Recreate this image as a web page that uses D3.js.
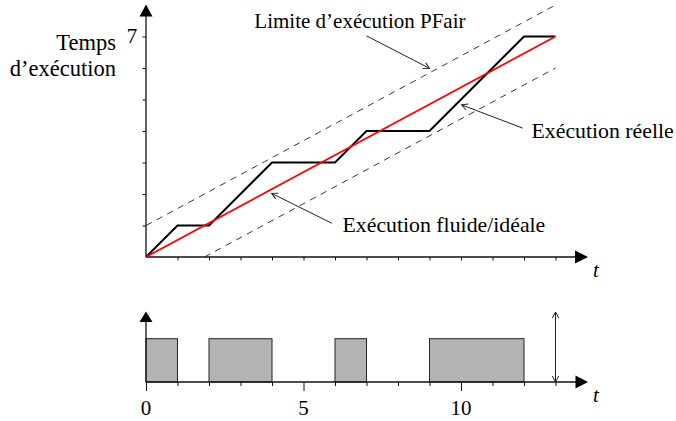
<!DOCTYPE html>
<html><head><meta charset="utf-8">
<script src="https://cdn.jsdelivr.net/npm/d3@7"></script>
<style>html,body{margin:0;padding:0;background:#fff;}svg{display:block;}</style>
</head><body>
<svg id="c" width="676" height="421"></svg>
<script>
// ---- data ----
const execTimes  = [0, 1, 2, 4, 6, 7, 9, 12, 13];   // exécution réelle
const execValues = [0, 1, 1, 3, 3, 4, 4, 7, 7];
const fluidTimes  = [0, 13];                        // exécution fluide/idéale
const fluidValues = [0, 7];
const upperTimes  = [0, 13];                        // limite PFair haute
const upperValues = [1, 8];
const lowerTimes  = [1.857, 13];                    // limite PFair basse
const lowerValues = [0, 6];
const busyStart = [0, 2, 6, 9];                     // ordonnancement
const busyEnd   = [1, 4, 7, 12];
const timeTicks = [0,1,2,3,4,5,6,7,8,9,10,11,12,13];
const timeLabels = [0, 5, 10];
const valueTicks = [1,2,3,4,5,6,7];
const valueLabels = [7];
const yTitle = ["Temps", "d\u2019exécution"];
const notes = [
  {text: "Limite d\u2019exécution PFair", size: 21,   tx: 3.44, ty: 7.27, x0: 7.0, y0: 7.02, x1: 9.0, y1: 5.99},
  {text: "Exécution réelle",            size: 21.8, tx: 12.24, ty: 3.77, x0: 11.96, y0: 4.09, x1: 10.02, y1: 4.83},
  {text: "Exécution fluide/idéale",     size: 21.8, tx: 6.24, ty: 0.80, x0: 5.9, y0: 1.07, x1: 3.99, y1: 2.02}
];

// ---- layout ----
const svg = d3.select("#c");
const FONT = "'Liberation Serif','Times New Roman',serif";
const x = d3.scaleLinear().domain([0, 13]).range([146, 555.5]);
const y = d3.scaleLinear().domain([0, 7]).range([257, 36.5]);
const yB = d3.scaleLinear().domain([0, 1]).range([382, 338.7]);
const axisCol = "#111";

const defs = svg.append("defs");
defs.append("marker").attr("id","open").attr("viewBox","-8 -5 10 10")
  .attr("refX",0).attr("refY",0).attr("markerWidth",10).attr("markerHeight",10)
  .attr("markerUnits","userSpaceOnUse").attr("orient","auto-start-reverse")
  .append("path").attr("d","M-6,-3.2 L0,0 L-6,3.2").attr("fill","none")
  .attr("stroke","#222").attr("stroke-width",1);

function arrowHeadUp(cx, tipY, baseY, hw){
  svg.append("path").attr("d",`M${cx},${tipY} L${cx-hw},${baseY} L${cx+hw},${baseY} Z`).attr("fill","#000");
}
function arrowHeadRight(tipX, baseX, cy, hh){
  svg.append("path").attr("d",`M${tipX},${cy} L${baseX},${cy-hh} L${baseX},${cy+hh} Z`).attr("fill","#000");
}

// ---- top chart ----
const gTop = svg.append("g");
gTop.append("g").attr("transform",`translate(0,${y(0)})`)
  .call(d3.axisBottom(x).tickValues(timeTicks.slice(1)).tickSize(3.5).tickSizeOuter(0).tickFormat(""))
  .call(g=>{g.select(".domain").remove(); g.selectAll("line").attr("stroke",axisCol).attr("stroke-width",1);});
gTop.append("g").attr("transform",`translate(${x(0)},0)`)
  .call(d3.axisLeft(y).tickValues(valueTicks).tickSize(3.5).tickSizeOuter(0).tickFormat(""))
  .call(g=>{g.select(".domain").remove(); g.selectAll("line").attr("stroke",axisCol).attr("stroke-width",1);});
gTop.append("line").attr("x1",x(0)).attr("x2",577).attr("y1",y(0)).attr("y2",y(0)).attr("stroke",axisCol).attr("stroke-width",1.3);
gTop.append("line").attr("x1",x(0)).attr("x2",x(0)).attr("y1",y(0)).attr("y2",14).attr("stroke",axisCol).attr("stroke-width",1.3);
arrowHeadUp(x(0), 4.5, 16.5, 6.5);
arrowHeadRight(588, 575, y(0), 6.5);
valueLabels.forEach(v=>{
  gTop.append("text").attr("x",132).attr("y",y(v)+6.5).attr("text-anchor","middle")
    .attr("font-family",FONT).attr("font-size",21).text(v);
});
yTitle.forEach((s,i)=>{
  gTop.append("text").attr("x",116).attr("y",50+i*26).attr("text-anchor","end")
    .attr("font-family",FONT).attr("font-size",22.5).text(s);
});
gTop.append("text").attr("x",593).attr("y",277).attr("font-family",FONT)
  .attr("font-style","italic").attr("font-size",21).text("t");

const line = d3.line().x(d=>x(d[0])).y(d=>y(d[1]));
const dashed = [[upperTimes, upperValues],[lowerTimes, lowerValues]];
dashed.forEach(([ts, vs])=>{
  gTop.append("path").attr("d", line(d3.zip(ts, vs))).attr("fill","none")
    .attr("stroke","#222").attr("stroke-width",0.9).attr("stroke-dasharray","6.5,5.5");
});
gTop.append("path").attr("d", line(d3.zip(execTimes, execValues))).attr("fill","none")
  .attr("stroke","#000").attr("stroke-width",2).attr("stroke-linejoin","miter");
gTop.append("path").attr("d", line(d3.zip(fluidTimes, fluidValues))).attr("fill","none")
  .attr("stroke","#f00").attr("stroke-width",1.8);

notes.forEach(n=>{
  gTop.append("line").attr("x1",x(n.x0)).attr("y1",y(n.y0)).attr("x2",x(n.x1)).attr("y2",y(n.y1))
    .attr("stroke","#222").attr("stroke-width",1).attr("marker-end","url(#open)");
  gTop.append("text").attr("x",x(n.tx)).attr("y",y(n.ty)).attr("font-family",FONT)
    .attr("font-size",n.size).text(n.text);
});

// ---- bottom chart ----
const gBot = svg.append("g");
gBot.selectAll("rect.busy").data(d3.zip(busyStart, busyEnd)).join("rect").attr("class","busy")
  .attr("x",d=>x(d[0])).attr("width",d=>x(d[1])-x(d[0]))
  .attr("y",yB(1)).attr("height",yB(0)-yB(1))
  .attr("fill","#b3b3b3").attr("stroke","#222").attr("stroke-width",1);
gBot.append("g").attr("transform",`translate(0,${yB(0)})`)
  .call(d3.axisBottom(x).tickValues(timeTicks).tickSize(4).tickSizeOuter(0).tickFormat(""))
  .call(g=>{g.select(".domain").remove(); g.selectAll("line").attr("stroke",axisCol).attr("stroke-width",1)
     .attr("y2",d=>timeLabels.includes(d)?9:4);});
gBot.append("line").attr("x1",x(0)).attr("x2",577).attr("y1",yB(0)).attr("y2",yB(0)).attr("stroke",axisCol).attr("stroke-width",1.3);
gBot.append("line").attr("x1",x(0)).attr("x2",x(0)).attr("y1",yB(0)).attr("y2",320).attr("stroke",axisCol).attr("stroke-width",1.3);
arrowHeadUp(x(0), 311.5, 322, 6.5);
arrowHeadRight(588, 575.5, yB(0), 6.5);
timeLabels.forEach(v=>{
  gBot.append("text").attr("x",x(v)).attr("y",415).attr("text-anchor","middle")
    .attr("font-family",FONT).attr("font-size",21).text(v);
});
gBot.append("text").attr("x",593).attr("y",401.5).attr("font-family",FONT)
  .attr("font-style","italic").attr("font-size",21).text("t");
gBot.append("line").attr("x1",x(13)).attr("x2",x(13)).attr("y1",312).attr("y2",yB(0))
  .attr("stroke","#222").attr("stroke-width",1)
  .attr("marker-start","url(#open)").attr("marker-end","url(#open)");
</script>
</body></html>
